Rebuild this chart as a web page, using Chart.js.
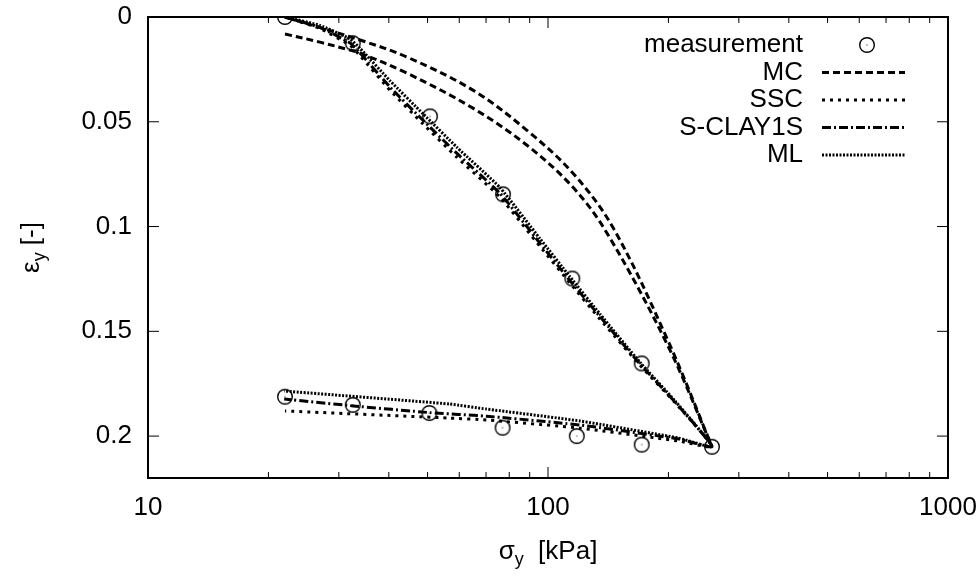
<!DOCTYPE html>
<html>
<head>
<meta charset="utf-8">
<script src="https://cdn.jsdelivr.net/npm/chart.js@4.4.1/dist/chart.umd.min.js"></script>
<style>
  body { margin: 0; background: #fff; }
</style>
</head>
<body>
<canvas id="chart" width="979" height="577"></canvas>
<script>
// axis ticks
const sigmaTicks = [10, 100, 1000];
const epsTicks = [0, 0.05, 0.1, 0.15, 0.2];

// measured points (loading then unloading)
const measSigma = [22, 32.5, 50.7, 77.2, 115, 171.5, 257, 171.5, 118, 77, 50.5, 32.5, 22];
const measEps = [0, 0.0125, 0.0474, 0.0846, 0.1248, 0.1653, 0.2051, 0.2041, 0.2, 0.196, 0.189, 0.1851, 0.1812];

// MC, two curves
const mcUpperSigma = [22, 33.9, 44.4, 64.9, 88.6, 115.5, 145.4, 199.5, 257];
const mcUpperEps = [0, 0.011, 0.0191, 0.0349, 0.0541, 0.0746, 0.1005, 0.1545, 0.205];
const mcLowerSigma = [22, 26.9, 32, 33.9, 44.4, 64.9, 88.6, 115.5, 140.6, 199.5, 257];
const mcLowerEps = [0.0081, 0.012, 0.0158, 0.0172, 0.0268, 0.0435, 0.0612, 0.0813, 0.1033, 0.157, 0.205];

// SSC
const sscSigma = [22, 26.9, 32, 33.9, 40.3, 48.7, 59.2, 75.9, 95.5, 113.5, 134.9, 169.8, 207.7, 257, 212.8, 120.2, 70.2, 56.8, 22];
const sscEps = [0, 0.0055, 0.0135, 0.0185, 0.035, 0.051, 0.067, 0.086, 0.1095, 0.127, 0.1442, 0.1662, 0.184, 0.205, 0.2024, 0.1962, 0.1923, 0.1914, 0.188];

// S-CLAY1S
const sclaySigma = [22, 26.9, 32, 33.9, 40.3, 48.7, 59.2, 75.9, 95.5, 113.5, 134.9, 169.8, 207.7, 257, 212.8, 120.2, 70.2, 50.7, 32.6, 21.9];
const sclayEps = [0, 0.005, 0.0124, 0.0172, 0.0335, 0.0493, 0.0651, 0.0842, 0.108, 0.1258, 0.143, 0.1656, 0.1837, 0.205, 0.2014, 0.1947, 0.1905, 0.1888, 0.1856, 0.1823];

// ML
const mlSigma = [22, 26.9, 32, 33.9, 40.3, 48.7, 59.2, 75.9, 95.5, 113.5, 134.9, 169.8, 207.7, 257, 212.8, 120.2, 70.2, 56.8, 21.9];
const mlEps = [0, 0.004, 0.0105, 0.015, 0.0305, 0.0462, 0.0622, 0.0815, 0.1058, 0.124, 0.1418, 0.1648, 0.1832, 0.205, 0.201, 0.1928, 0.1871, 0.1847, 0.1785];

const FONT = "'Liberation Sans', Arial, sans-serif";

const pts = (xs, ys) => xs.map((v, i) => ({ x: v, y: ys[i] }));

// circle with a dot in the middle, like gnuplot's point type 6
function ringMarker() {
  const c = document.createElement("canvas");
  c.width = c.height = 18;
  const g = c.getContext("2d");
  g.strokeStyle = "#000";
  g.lineWidth = 1.4;
  g.beginPath();
  g.arc(9, 9, 7.3, 0, Math.PI * 2);
  g.stroke();
  g.fillStyle = "#000";
  g.fillRect(8.5, 8.5, 1, 1);
  return c;
}
const ring = ringMarker();

const lineSet = (label, xs, ys, dash, width, tension, inLegend) => ({
  label,
  data: pts(xs, ys),
  showLine: true,
  borderColor: "#000",
  borderWidth: width,
  borderDash: dash,
  pointRadius: 0,
  tension,
  inLegend
});

const datasets = [
  {
    label: "measurement",
    data: pts(measSigma, measEps),
    showLine: false,
    pointStyle: ring,
    pointRadius: 9,
    borderColor: "#000",
    inLegend: true
  },
  lineSet("MC", mcUpperSigma, mcUpperEps, [7, 4], 3, 0.35, true),
  lineSet("MC", mcLowerSigma, mcLowerEps, [7, 4], 3, 0.35, false),
  lineSet("SSC", sscSigma, sscEps, [3, 5], 3, 0.15, true),
  lineSet("S-CLAY1S", sclaySigma, sclayEps, [9, 3, 2, 3], 3, 0.15, true),
  lineSet("ML", mlSigma, mlEps, [2, 1.5], 3, 0.15, true)
];

// border, inward ticks, legend and axis titles
const frame = {
  id: "frame",
  afterDraw(chart) {
    const { ctx, chartArea: a, scales: { x, y } } = chart;
    ctx.save();
    ctx.strokeStyle = "#000";
    ctx.lineWidth = 1;
    const seg = (x1, y1, x2, y2) => {
      ctx.beginPath();
      ctx.moveTo(x1, y1);
      ctx.lineTo(x2, y2);
      ctx.stroke();
    };
    for (const v of sigmaTicks) {
      const px = x.getPixelForValue(v);
      seg(px, a.bottom, px, a.bottom - 11);
      seg(px, a.top, px, a.top + 11);
    }
    for (const d of [10, 100]) {
      for (let m = 2; m <= 9; m++) {
        const px = x.getPixelForValue(d * m);
        seg(px, a.bottom, px, a.bottom - 6);
        seg(px, a.top, px, a.top + 6);
      }
    }
    for (const v of epsTicks) {
      const py = y.getPixelForValue(v);
      seg(a.left, py, a.left + 11, py);
      seg(a.right, py, a.right - 11, py);
    }
    ctx.lineWidth = 2;
    ctx.strokeRect(a.left, a.top, a.right - a.left, a.bottom - a.top);

    // legend
    ctx.fillStyle = "#000";
    ctx.font = "26px " + FONT;
    ctx.textAlign = "right";
    ctx.textBaseline = "middle";
    let row = 0;
    chart.data.datasets.forEach(ds => {
      if (!ds.inLegend) return;
      const ly = a.top + 28 + row * 27.5;
      ctx.fillText(ds.label, 803, ly);
      if (ds.showLine) {
        ctx.save();
        ctx.lineWidth = ds.borderWidth;
        ctx.setLineDash(ds.borderDash);
        seg(822, ly, 905, ly);
        ctx.restore();
      } else {
        ctx.drawImage(ds.pointStyle, 867 - 9, ly - 9);
      }
      row++;
    });

    // axis titles with subscripts
    const drawSub = (main, sub, rest, cx, cy) => {
      ctx.font = "26px " + FONT;
      const w1 = ctx.measureText(main).width;
      const w3 = ctx.measureText(rest).width;
      ctx.font = "18px " + FONT;
      const w2 = ctx.measureText(sub).width;
      let sx = cx - (w1 + w2 + w3) / 2;
      ctx.textAlign = "left";
      ctx.font = "26px " + FONT;
      ctx.fillText(main, sx, cy);
      ctx.font = "18px " + FONT;
      ctx.fillText(sub, sx + w1, cy + 8);
      ctx.font = "26px " + FONT;
      ctx.fillText(rest, sx + w1 + w2, cy);
    };
    drawSub("\u03c3", "y", "  [kPa]", (a.left + a.right) / 2, 552);
    ctx.save();
    ctx.translate(32, (a.top + a.bottom) / 2);
    ctx.rotate(-Math.PI / 2);
    drawSub("\u03b5", "y", " [-]", 0, 0);
    ctx.restore();
    ctx.restore();
  }
};

// invisible tick marks give the label offset without inflating the layout padding
const hiddenTicks = len => ({
  display: true,
  drawOnChartArea: false,
  drawTicks: true,
  tickLength: len,
  color: "rgba(0,0,0,0)"
});

new Chart(document.getElementById("chart"), {
  type: "scatter",
  data: { datasets },
  plugins: [frame],
  options: {
    responsive: false,
    animation: false,
    devicePixelRatio: 1,
    layout: { padding: { top: 17, right: 31, left: 0, bottom: 0 } },
    plugins: {
      legend: { display: false },
      tooltip: { enabled: false }
    },
    scales: {
      x: {
        type: "logarithmic",
        min: 10,
        max: 1000,
        afterBuildTicks: s => { s.ticks = sigmaTicks.map(v => ({ value: v })); },
        afterFit: s => { s.height = 99; },
        grid: hiddenTicks(14),
        border: { display: false },
        ticks: {
          color: "#000",
          font: { family: FONT, size: 26 },
          padding: 0,
          maxRotation: 0,
          autoSkip: false,
          callback: v => String(v)
        }
      },
      y: {
        type: "linear",
        reverse: true,
        min: 0,
        max: 0.22,
        afterBuildTicks: s => { s.ticks = epsTicks.map(v => ({ value: v })); },
        afterFit: s => { s.width = 148; },
        grid: hiddenTicks(16),
        border: { display: false },
        ticks: {
          color: "#000",
          font: { family: FONT, size: 26 },
          padding: 0,
          callback: v => String(+v.toFixed(2))
        }
      }
    }
  }
});
</script>
</body>
</html>
